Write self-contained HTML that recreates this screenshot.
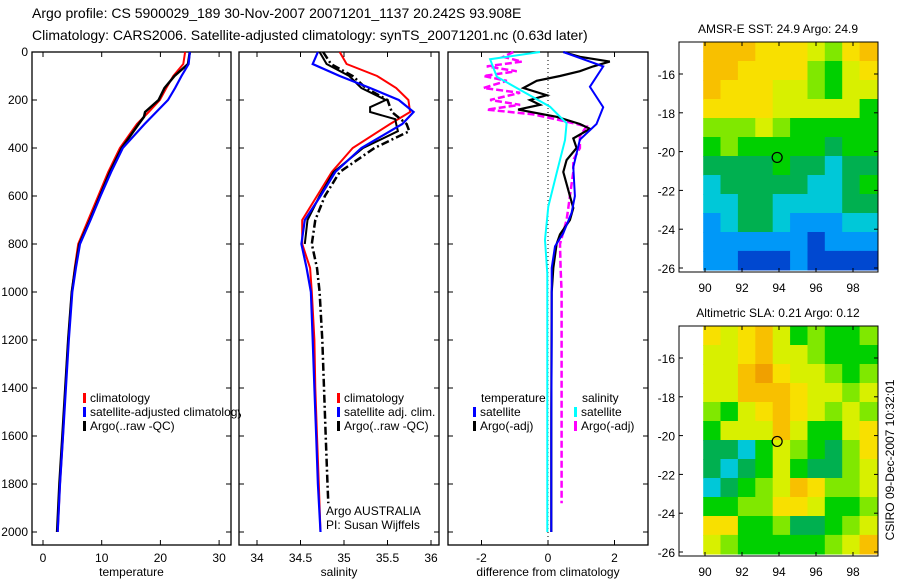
<!DOCTYPE html>
<html><head><meta charset="utf-8"><style>
body{margin:0;background:#fff;}
svg{display:block;font-family:"Liberation Sans",sans-serif;}
text{fill:#000;}
</style></head><body>
<svg id="fig" width="900" height="580" viewBox="0 0 900 580" xmlns="http://www.w3.org/2000/svg">
<text x="32" y="18" font-size="14">Argo profile: CS 5900029_189 30-Nov-2007 20071201_1137 20.242S 93.908E</text>
<text x="32" y="40" font-size="14">Climatology: CARS2006. Satellite-adjusted climatology: synTS_20071201.nc (0.63d later)</text>
<defs><clipPath id="c1"><rect x="0" y="0" width="241" height="580"/></clipPath></defs>
<g id="g"></g>
</svg>
<script>
// ---- data ----
const depthTicks=[0,200,400,600,800,1000,1200,1400,1600,1800,2000];
const tempTicks=[0,10,20,30];
const salTicks=[34,34.5,35,35.5,36];
const diffTicks=[-2,0,2];
const lonTicks=[90,92,94,96,98];
const latTicks=[-16,-18,-20,-22,-24,-26];
const depths=[0,50,100,150,200,250,300,400,500,600,700,800,900,1000,1200,1400,1600,1800,2000];
const tempClim=[24.2,23.9,22.2,21,19.9,18,16,13.1,11.1,9.4,7.7,6,5.4,4.9,4.3,3.8,3.4,2.9,2.5];
const tempSat=[25,24.8,23.6,22.5,21.3,19.3,17.3,13.6,11.6,9.8,8.1,6.3,5.6,5.0,4.4,3.9,3.4,2.9,2.5];
const argoDepths=[0,50,100,150,200,250,270,300,400,500,600,700,800,900,1000,1200,1400,1600,1800,2000];
const tempArgo=[25,24.7,22.4,20.7,19.7,17.4,17.2,16.3,13.4,11.4,9.7,8.0,6.2,5.5,4.9,4.3,3.8,3.3,2.8,2.4];
const salClim=[34.95,35.03,35.38,35.6,35.74,35.76,35.53,35.1,34.86,34.69,34.52,34.52,34.61,34.63,34.66,34.67,34.69,34.71,34.73];
const salSat=[34.7,34.64,34.95,35.3,35.63,35.8,35.67,35.2,34.9,34.73,34.55,34.51,34.57,34.62,34.64,34.66,34.68,34.7,34.73];
const salArgoDepths=[0,50,100,150,200,230,250,280,300,330,400,500,600,700,800];
const salArgo=[34.72,34.8,35.06,35.2,35.48,35.3,35.3,35.59,35.6,35.62,35.22,34.88,34.72,34.58,34.55];
const salRawDepths=[0,50,100,150,200,250,300,330,400,500,600,700,800,900,1000,1200,1400,1600,1800,1880];
const salRaw=[34.76,34.85,35.1,35.25,35.5,35.55,35.72,35.75,35.35,34.95,34.78,34.67,34.63,34.69,34.72,34.75,34.77,34.79,34.81,34.82];
const dTDepths=[0,60,145,230,300,365,480,600,670,755,810,900,1200,1600,2000];
const dTSat=[0.46,1.66,1.26,1.66,1.46,0.96,0.76,0.81,0.71,0.46,0.21,0.11,0.11,0.1,0.1];
const dTArgoDepths=[0,20,40,60,80,100,120,150,180,200,220,240,270,300,320,360,400,450,500,550,600,650,700,760,800,900,1000,1500,2000];
const dTArgo=[0.46,0.96,1.86,1.36,0.96,0.36,-0.34,-0.74,-0.04,-0.54,-0.24,-0.9,0.26,0.96,1.26,0.76,0.86,0.56,0.46,0.56,0.66,0.76,0.66,0.36,0.26,0.16,0.11,0.1,0.1];
const dSDepths=[0,30,103,158,228,297,367,505,644,783,922,1400,2000];
const dSSat=[-0.24,-1.74,-1.54,-0.84,0.06,0.56,0.51,0.26,0.01,-0.09,-0.02,-0.02,-0.02];
const dSArgoDepths=[0,20,40,60,80,100,120,150,170,200,220,240,260,290,310,350,400,450,500,550,600,650,700,750,800,900,1000,1500,1880];
const dSArgo=[-1.04,-1.34,-0.79,-1.84,-0.94,-1.94,-1.24,-1.94,-0.84,-1.74,-0.84,-1.84,-0.44,0.56,1.16,0.96,0.96,0.76,0.76,0.71,0.66,0.61,0.56,0.46,0.36,0.38,0.41,0.41,0.41];
const palette=['#0030b0','#0048d0','#0098f8','#00c8d8','#00b050','#00d000','#80e800','#d8f000','#f8e000','#f8c000','#f0a000'];
const sstGrid=[
[9,9,9,8,8,8,7,6,8,9],[9,9,8,8,8,8,6,5,7,8],[9,8,8,8,7,7,6,5,7,7],[8,8,8,8,7,7,7,7,7,5],
[6,6,6,7,6,5,5,5,5,5],[5,6,5,5,5,5,5,4,5,5],[4,4,4,4,5,4,4,3,4,4],[3,4,4,4,4,4,3,3,4,5],
[3,3,4,4,3,3,3,3,4,4],[2,3,4,4,3,2,2,2,3,3],[2,2,2,2,2,2,1,2,2,2],[2,2,1,1,1,2,1,1,1,1]];
const slaGrid=[
[8,7,8,9,7,5,6,5,5,6],[7,7,8,9,7,7,6,5,5,5],[7,7,9,10,8,7,7,6,5,6],[7,7,9,9,9,8,7,7,6,7],
[6,5,7,8,9,8,7,6,7,6],[5,7,7,7,9,7,5,5,7,8],[4,4,3,5,7,6,5,4,6,8],[4,3,4,5,7,5,4,4,6,7],
[3,4,5,6,7,9,8,6,6,7],[5,5,6,6,8,8,7,5,5,6],[8,8,5,5,6,4,4,5,6,7],[7,6,5,5,5,5,5,6,7,9]];
const argoLon=93.9, argoLat=-20.3;
// ---- helpers ----
const NS='http://www.w3.org/2000/svg', G=document.getElementById('g');
function mk(tag,a,p){const e=document.createElementNS(NS,tag);for(const k in a)e.setAttribute(k,a[k]);(p||G).appendChild(e);return e;}
function txt(x,y,s,fs,anchor,p){const t=mk('text',{x:x,y:y,'font-size':fs||12,'text-anchor':anchor||'start'},p);t.textContent=s;return t;}
const yD=d=>52+0.24*d;
const panels=[
 {x0:32,x1:231,sx:v=>43+5.87*v,ticks:tempTicks,label:'temperature',name:'temperature'},
 {x0:239,x1:439,sx:v=>257+87*(v-34),ticks:salTicks,label:'salinity',name:'salinity'},
 {x0:448,x1:648,sx:v=>548+33.25*v,ticks:diffTicks,label:'difference from climatology',name:'difference'}];
panels.forEach((P,i)=>{
 const r=mk('rect',{x:P.x0,y:52,width:P.x1-P.x0,height:493,fill:'none',stroke:'#000','stroke-width':1.3});
 
 
 P.ticks.forEach(t=>{const x=P.sx(t);
  mk('line',{x1:x,x2:x,y1:545,y2:540,stroke:'#000'});mk('line',{x1:x,x2:x,y1:52,y2:57,stroke:'#000'});
  const l=txt(x,562,String(t),12,'middle');
  
  });
 depthTicks.forEach(d=>{const y=yD(d);
  mk('line',{x1:P.x0,x2:P.x0+5,y1:y,y2:y,stroke:'#000'});mk('line',{x1:P.x1,x2:P.x1-5,y1:y,y2:y,stroke:'#000'});
  if(i==0){const l=txt(28,y+4,String(d),12,'end');
   
   }});
 const xl=txt((P.x0+P.x1)/2,576,P.label,12,'middle');
 
 
});
function line(P,ds,vs,col,w,dash,name,p){
 const pts=ds.map((d,i)=>P.sx(vs[i]).toFixed(1)+','+yD(d).toFixed(1)).join(' ');
 const e=mk('polyline',{points:pts,fill:'none',stroke:col,'stroke-width':w,'stroke-dasharray':dash||'none'},p);
 
 }
// zero line
mk('line',{x1:548,x2:548,y1:52,y2:545,stroke:'#000','stroke-dasharray':'1,3'});
const [PT,PS,PD]=panels;
line(PT,depths,tempClim,'#f00',2,null,'temp-climatology-line');
line(PT,argoDepths,tempArgo,'#000',2.5,null,'temp-argo-line');
line(PT,depths,tempSat,'#00f',2.2,null,'temp-satellite-line');
line(PS,depths,salClim,'#f00',2,null,'sal-climatology-line');
line(PS,salRawDepths,salRaw,'#000',2.5,'8,3,2,3','sal-argo-raw-line');
line(PS,salArgoDepths,salArgo,'#000',2,null,'sal-argo-line');
line(PS,depths,salSat,'#00f',2.2,null,'sal-satellite-line');
line(PD,dSArgoDepths,dSArgo,'#f0f',2.5,'7,3','sal-diff-argo-line');
line(PD,dTArgoDepths,dTArgo,'#000',2.2,null,'temp-diff-argo-line');
line(PD,dSDepths,dSSat,'#0ff',2,null,'sal-diff-satellite-line');
line(PD,dTDepths,dTSat,'#00f',2,null,'temp-diff-satellite-line');
// legends
function leg(x,y,col,s,name,p){const m=mk('rect',{x:x,y:y-9,width:3,height:10,fill:col},p);
 
 
 if(s){const t=txt(x+7,y,s,12,'start',p);
 
 }}
const lg1=mk('g',{'clip-path':'url(#c1)'});
leg(83,402,'#f00','climatology','legend-climatology',lg1);
leg(83,416,'#00f','satellite-adjusted climatology','legend-satellite-adjusted',lg1);
leg(83,430,'#000','Argo(..raw -QC)','legend-argo',lg1);
leg(337,402,'#f00','climatology','legend-sal-climatology');
leg(337,416,'#00f','satellite adj. clim.','legend-sal-satellite');
leg(337,430,'#000','Argo(..raw -QC)','legend-sal-argo');
let t=txt(326,515,'Argo AUSTRALIA',12);
t=txt(326,529,'PI: Susan Wijffels',12);
t=txt(481,402,'temperature',12);
t=txt(582,402,'salinity',12);
leg(473,416,'#00f','satellite','legend-temp-satellite');
leg(473,430,'#000','Argo(-adj)','legend-temp-argo');
leg(574,416,'#0ff','satellite','legend-sal-satellite-diff');
leg(574,430,'#f0f','Argo(-adj)','legend-sal-argo-diff');
// maps
function map(top,latTop,pyPerDeg,yAt16,grid,title,name){
 const lonX=l=>705+18.5*(l-90), latY=la=>yAt16+pyPerDeg*(-16-la);
 const boxTop=top, boxBot=latY(-26)+4;
 const nr=grid.length,nc=grid[0].length;
 const x0=lonX(89.9),x1=877,y0=boxTop,y1=latY(-26.1);
 const cw=(x1-x0)/nc,ch=(y1-y0)/nr;
 grid.forEach((row,r)=>row.forEach((v,c)=>{
  const e=mk('rect',{x:(x0+c*cw).toFixed(1),y:(y0+r*ch).toFixed(1),width:(cw+0.6).toFixed(1),height:(ch+0.6).toFixed(1),fill:palette[v]});
  
  }));
 const f=mk('rect',{x:679,y:boxTop,width:199,height:boxBot-boxTop,fill:'none',stroke:'#000'});
 
 
 lonTicks.forEach(l=>{const x=lonX(l);mk('line',{x1:x,x2:x,y1:boxBot,y2:boxBot-4,stroke:'#000'});mk('line',{x1:x,x2:x,y1:boxTop,y2:boxTop+4,stroke:'#000'});
  const e=txt(x,boxBot+20,String(l),12,'middle');});
 latTicks.forEach(la=>{const y=latY(la);mk('line',{x1:679,x2:683,y1:y,y2:y,stroke:'#000'});mk('line',{x1:878,x2:874,y1:y,y2:y,stroke:'#000'});
  const e=txt(675,y+5,String(la),12,'end');});
 const c=mk('circle',{cx:lonX(argoLon),cy:latY(argoLat),r:5,fill:'none',stroke:'#000','stroke-width':1.2});
 
 
 const ti=txt(778,top-9,title,12,'middle');
}
map(42,-14.35,19.4,74,sstGrid,'AMSR-E SST: 24.9 Argo: 24.9','sst-map');
map(326,-14.35,19.4,358,slaGrid,'Altimetric SLA: 0.21 Argo: 0.12','sla-map');
t=txt(0,0,'CSIRO 09-Dec-2007 10:32:01',12,'middle');
t.setAttribute('transform','translate(894,460) rotate(-90)');


</script>
</body></html>
